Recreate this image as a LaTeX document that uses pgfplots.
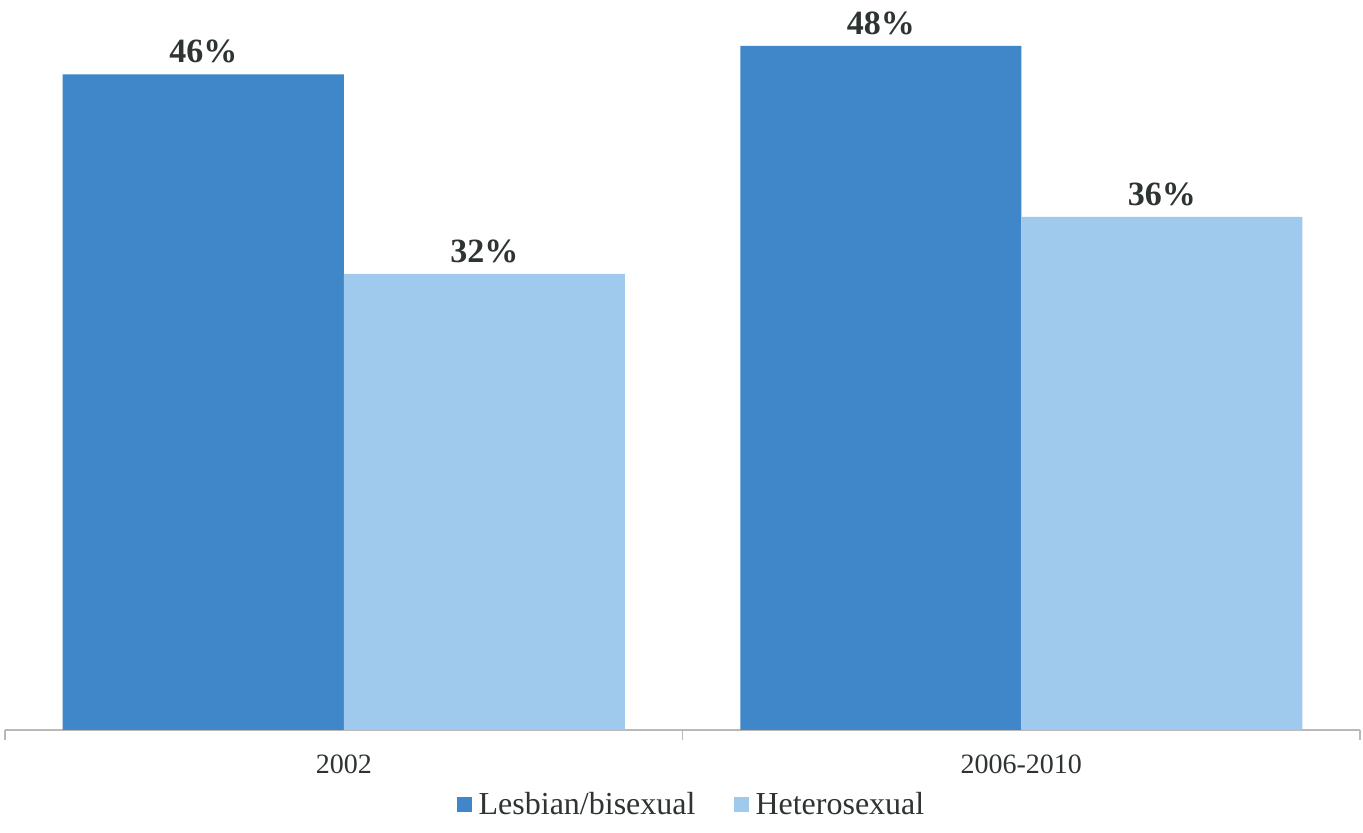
\documentclass[border=0pt]{standalone}
\usepackage{fontspec}
\setmainfont{Liberation Serif}
\usepackage{pgfplots}
\pgfplotsset{compat=1.18}

\definecolor{lesb}{RGB}{64,135,202}
\definecolor{hetero}{RGB}{160,201,238}
\definecolor{txt}{RGB}{45,52,50}
\definecolor{axln}{RGB}{185,185,185}

\begin{document}
\begin{tikzpicture}
\useasboundingbox (-2.5pt,-51.5pt) rectangle (679pt,365pt);
\begin{axis}[
    scale only axis,
    width=677.5pt,
    height=363.5pt,
    xmin=-0.5, xmax=1.5,
    ymin=0, ymax=51,
    ybar=0pt,
    bar width=140.5pt,
    axis y line=none,
    axis x line*=bottom,
    x axis line style={axln, line width=0.8pt},
    xtick={0,1},
    xticklabels={2002,2006-2010},
    major tick length=0pt,
    minor xtick={-0.5,0.5,1.5},
    minor tick length=5pt,
    tick align=outside,
    tick style={axln, line width=0.8pt},
    xticklabel style={font=\fontsize{14}{16}\selectfont, text=txt, yshift=-9pt},
    nodes near coords={\pgfmathprintnumber[assume math mode=true]{\pgfplotspointmeta}\%},
    nodes near coords style={font=\fontsize{17}{19}\selectfont\bfseries, text=txt, yshift=2pt},
    clip=false,
    legend columns=2,
    legend style={at={(0.5,0)}, anchor=center, xshift=5pt, yshift=-37.5pt, draw=none,
        font=\fontsize{16}{18}\selectfont, text=txt,
        /tikz/every even column/.append style={column sep=17pt}},
    legend image code/.code={\fill[#1] (0pt,-3.75pt) rectangle (7.5pt,3.75pt);
        \path (9pt,0pt);},
]
\addplot[fill=lesb, draw=none] coordinates {(0,46) (1,48)};
\addplot[fill=hetero, draw=none] coordinates {(0,32) (1,36)};
\legend{Lesbian/bisexual, Heterosexual}
\end{axis}
\end{tikzpicture}
\end{document}
